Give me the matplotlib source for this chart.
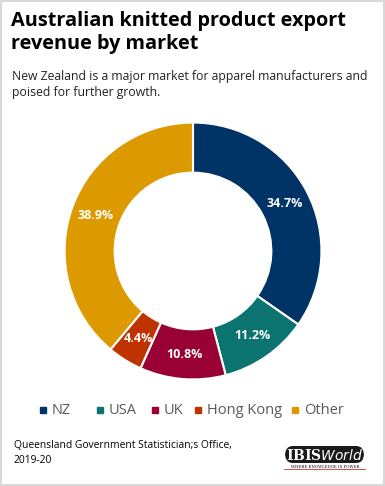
import matplotlib.pyplot as plt
import numpy as np
from matplotlib.patches import FancyBboxPatch, Rectangle

markets = ['NZ', 'USA', 'UK', 'Hong Kong', 'Other']
shares = [34.7, 11.2, 10.8, 4.4, 38.9]
colors = ['#003366', '#0b7470', '#990033', '#bf3300', '#dd9900']

plt.rcParams['font.family'] = ['Open Sans', 'DejaVu Sans']

fig = plt.figure(figsize=(3.85, 4.86), dpi=100)
fig.patches.append(Rectangle((0.002, 0.002), 0.996, 0.996, transform=fig.transFigure,
                             fill=False, edgecolor='#d9d9d9', linewidth=1.5))

fig.text(0.028, 0.977, 'Australian knitted product export\nrevenue by market',
         fontsize=14.3, fontweight='bold', va='top', linespacing=1.22)
fig.text(0.03, 0.855, 'New Zealand is a major market for apparel manufacturers and\npoised for further growth.',
         fontsize=8.8, va='top', color='#222222', linespacing=1.28)

ax = fig.add_axes([193 / 385 - 131 / 385, 1 - (251 + 131) / 486, 262 / 385, 262 / 486])
wedges, texts = ax.pie(shares, colors=colors, startangle=90, counterclock=False,
                       radius=1.0, wedgeprops=dict(width=0.39, edgecolor='white', linewidth=1.5))
ax.set_aspect('equal')
ax.set_xlim(-1.02, 1.02)
ax.set_ylim(-1.02, 1.02)

ang = 90.0
for w, s in zip(wedges, shares):
    mid = np.deg2rad(ang - s * 3.6 / 2)
    ang -= s * 3.6
    r = 0.805
    ax.text(r * np.cos(mid), r * np.sin(mid), f'{s}%', ha='center', va='center',
            color='white', fontsize=9, fontweight='bold')

# legend
xs = [40, 97, 152, 195, 292]
for x, m, c in zip(xs, markets, colors):
    fig.patches.append(Rectangle(((x) / 385, 1 - 413 / 486), 6 / 385, 6 / 486,
                                 transform=fig.transFigure, color=c))
    fig.text((x + 12) / 385, 1 - 410 / 486, m, fontsize=10.5, color='#595959', va='center')

fig.text(0.036, 1 - 453 / 486, "Queensland Government Statistician;s Office,\n2019-20",
         fontsize=7.4, va='center', linespacing=1.4)

# logo
fig.patches.append(FancyBboxPatch((285 / 385, 1 - 463 / 486), 79 / 385, 17 / 486,
                                  boxstyle='round,pad=0,rounding_size=0.02',
                                  transform=fig.transFigure, facecolor='#1a1a1a', edgecolor='none'))
fig.text(325 / 385, 1 - 455 / 486, r'IBIS$\it{World}$', fontsize=10, color='white',
         family='DejaVu Serif', fontweight='bold', ha='center', va='center')
fig.text(325 / 385, 1 - 466.5 / 486, 'WHERE KNOWLEDGE IS POWER', fontsize=2.8,
         family='DejaVu Serif', ha='center', va='center')
fig.lines.append(plt.Line2D([284 / 385, 365 / 385], [1 - 468.5 / 486] * 2,
                            transform=fig.transFigure, color='#c0392b', linewidth=0.6))

fig.savefig('out.png', dpi=100)
